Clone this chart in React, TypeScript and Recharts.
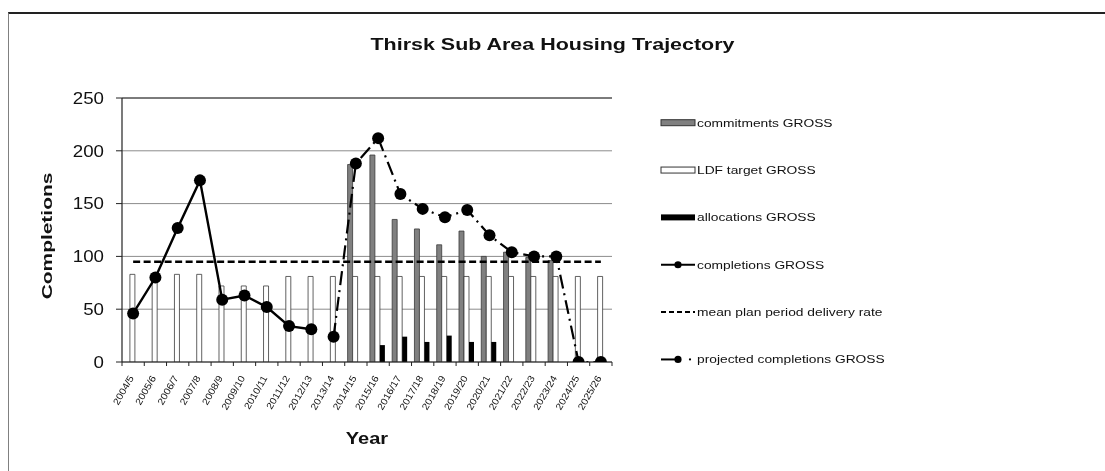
import React from 'react';
import { ComposedChart, Bar, Line, XAxis, YAxis, CartesianGrid, ReferenceLine, Legend } from 'recharts';

const categories = ['2004/5', '2005/6', '2006/7', '2007/8', '2008/9', '2009/10', '2010/11', '2011/12', '2012/13', '2013/14', '2014/15', '2015/16', '2016/17', '2017/18', '2018/19', '2019/20', '2020/21', '2021/22', '2022/23', '2023/24', '2024/25', '2025/26'];
const commitments = [null, null, null, null, null, null, null, null, null, null, 187, 196, 135, 126, 111, 124, 100, 104, 99, 96, null, null];
const ldfTarget = [83, 83, 83, 83, 72, 72, 72, 81, 81, 81, 81, 81, 81, 81, 81, 81, 81, 81, 81, 81, 81, 81];
const allocations = [null, null, null, null, null, null, null, null, null, null, null, 16, 24, 19, 25, 19, 19, null, null, null, null, null];
const completions = [46, 80, 127, 172, 59, 63, 52, 34, 31, null, null, null, null, null, null, null, null, null, null, null, null, null];
const projected = [null, null, null, null, null, null, null, null, null, 24, 188, 212, 159, 145, 137, 144, 120, 104, 100, 100, 0, 0];
const meanRate = 95;
const yTicks = [0, 50, 100, 150, 200, 250];
const seriesNames = ['commitments GROSS', 'LDF target GROSS', 'allocations GROSS', 'completions GROSS', 'mean plan period delivery rate', 'projected completions GROSS'];
const chartTitle = 'Thirsk Sub Area Housing Trajectory';
const yTitle = 'Completions';
const xTitle = 'Year';

const data = categories.map((c, i) => ({
  year: c,
  commitments: commitments[i],
  ldf: ldfTarget[i],
  allocations: allocations[i],
  completions: completions[i],
  projected: projected[i],
}));

const W = 1089;
const H = 455;
const M = { top: 90, right: 485, bottom: 41, left: 14 };
const Y_W = 100;
const X_H = 60;
const plotW = W - M.left - Y_W - M.right;
const step = plotW / categories.length;
const FONT = '"Liberation Sans", Arial, Helvetica, sans-serif';

const XTick = (props: any) => {
  const { x, y, payload, index } = props;
  const bx = x - step / 2;
  return (
    <g>
      <line x1={bx} y1={y} x2={bx} y2={y + 4} stroke="#222" strokeWidth={1} />
      {index === categories.length - 1 && (
        <line x1={x + step / 2} y1={y} x2={x + step / 2} y2={y + 4} stroke="#222" strokeWidth={1} />
      )}
      <text
        transform={`translate(${x + 1},${y + 16}) rotate(-60) scale(1.1,1)`}
        textAnchor="end"
        fontSize={9.5}
        fontFamily={FONT}
        fill="#111"
      >
        {payload.value}
      </text>
    </g>
  );
};

const YTick = (props: any) => {
  const { x, y, payload } = props;
  return (
    <text
      transform={`translate(${x},${y}) scale(1.17,1)`}
      textAnchor="end"
      dy="0.36em"
      fontSize={16}
      fontFamily={FONT}
      fill="#111"
    >
      {payload.value}
    </text>
  );
};

const YLabel = () => (
  <text
    transform={`translate(38.5,228) rotate(-90) scale(1.35,1)`}
    textAnchor="middle"
    dy="0.35em"
    fontSize={15.5}
    fontWeight="bold"
    fontFamily={FONT}
    fill="#111"
  >
    {yTitle}
  </text>
);

const XLabel = () => (
  <text
    transform={`translate(359,430) scale(1.25,1)`}
    textAnchor="middle"
    dy="0.35em"
    fontSize={16}
    fontWeight="bold"
    fontFamily={FONT}
    fill="#111"
  >
    {xTitle}
  </text>
);

const LegendContent = () => {
  return (
    <svg width={270} height={290} style={{ overflow: 'visible' }}>
      {seriesNames.map((name, i) => {
        const cy = 14.7 + i * 47.35;
        let sym: React.ReactNode = null;
        if (i === 0) sym = <rect x={3} y={cy - 3} width={34} height={6} fill="#808080" stroke="#333" strokeWidth={1} />;
        if (i === 1) sym = <rect x={3} y={cy - 3} width={34} height={6} fill="#fff" stroke="#333" strokeWidth={1} />;
        if (i === 2) sym = <rect x={3} y={cy - 3} width={34} height={6} fill="#000" />;
        if (i === 3)
          sym = (
            <g>
              <line x1={3} y1={cy} x2={37} y2={cy} stroke="#000" strokeWidth={2} />
              <circle cx={20} cy={cy} r={3.6} fill="#000" />
            </g>
          );
        if (i === 4) sym = <line x1={3} y1={cy} x2={37} y2={cy} stroke="#000" strokeWidth={2} strokeDasharray="5 3" />;
        if (i === 5)
          sym = (
            <g>
              <line x1={3} y1={cy} x2={17} y2={cy} stroke="#000" strokeWidth={2} />
              <circle cx={20} cy={cy} r={3.6} fill="#000" />
              <circle cx={32} cy={cy} r={1.1} fill="#000" />
            </g>
          );
        return (
          <g key={name}>
            {sym}
            <text
              transform={`translate(39,${cy}) scale(1.2,1)`}
              dy="0.35em"
              fontSize={11.5}
              fontFamily={FONT}
              fill="#111"
            >
              {name}
            </text>
          </g>
        );
      })}
    </svg>
  );
};

export default function App() {
  return (
    <div style={{ position: 'relative', width: W, height: H, fontFamily: FONT }}>
      <div
        style={{
          position: 'fixed',
          left: 8,
          top: 12,
          width: 1110,
          height: 480,
          borderTop: '2px solid #222',
          borderLeft: '1.5px solid #808080',
          boxSizing: 'border-box',
          pointerEvents: 'none',
        }}
      />
      <div
        style={{
          position: 'absolute',
          top: 26,
          left: 0,
          width: W,
          textAlign: 'center',
          fontSize: 16.5,
          fontWeight: 'bold',
          lineHeight: '20px',
          color: '#111',
          transform: 'scaleX(1.3)',
          transformOrigin: `${W / 2}px 0px`,
          fontFamily: FONT,
        }}
      >
        {chartTitle}
      </div>
      <ComposedChart width={W} height={H} data={data} margin={M} barCategoryGap="13%" barGap={0}>
        <CartesianGrid vertical={false} stroke="#8c8c8c" strokeWidth={1} />
        <XAxis
          dataKey="year"
          height={X_H}
          interval={0}
          tickSize={0}
          tickMargin={0}
          tickLine={false}
          axisLine={{ stroke: '#222', strokeWidth: 1.2 }}
          tick={<XTick />}
          label={<XLabel />}
        />
        <YAxis
          domain={[0, 250]}
          ticks={yTicks}
          width={Y_W}
          tickSize={6}
          tickMargin={12}
          axisLine={{ stroke: '#222', strokeWidth: 1.2 }}
          tickLine={{ stroke: '#222' }}
          tick={<YTick />}
          label={<YLabel />}
          allowDataOverflow
        />
        <YAxis
          yAxisId="right"
          orientation="right"
          domain={[0, 250]}
          width={0}
          tick={false}
          tickLine={false}
          axisLine={{ stroke: '#808080', strokeWidth: 1.2 }}
        />
        <ReferenceLine y={250} stroke="#333" strokeWidth={1.2} />
        <Bar dataKey="commitments" fill="#808080" stroke="#3a3a3a" strokeWidth={0.8} isAnimationActive={false} />
        <Bar dataKey="ldf" fill="#ffffff" stroke="#3a3a3a" strokeWidth={0.8} isAnimationActive={false} />
        <Bar dataKey="allocations" fill="#000000" isAnimationActive={false} />
        <ReferenceLine
          segment={[
            { x: categories[0], y: meanRate },
            { x: categories[categories.length - 1], y: meanRate },
          ]}
          stroke="#000"
          strokeWidth={2.4}
          strokeDasharray="7 3.5"
        />
        <Line
          dataKey="completions"
          stroke="#000"
          strokeWidth={2.4}
          dot={{ r: 6, fill: '#000', stroke: 'none', strokeWidth: 0 }}
          activeDot={false}
          connectNulls={false}
          isAnimationActive={false}
        />
        <Line
          dataKey="projected"
          stroke="#000"
          strokeWidth={2.2}
          strokeDasharray="14 5 2 5"
          dot={{ r: 6, fill: '#000', stroke: 'none', strokeWidth: 0, strokeDasharray: 'none' }}
          activeDot={false}
          connectNulls={false}
          isAnimationActive={false}
        />
        <Legend
          layout="vertical"
          align="center"
          verticalAlign="middle"
          content={<LegendContent />}
          wrapperStyle={{ left: 650, top: 100, width: 270, height: 290 }}
        />
      </ComposedChart>
    </div>
  );
}
